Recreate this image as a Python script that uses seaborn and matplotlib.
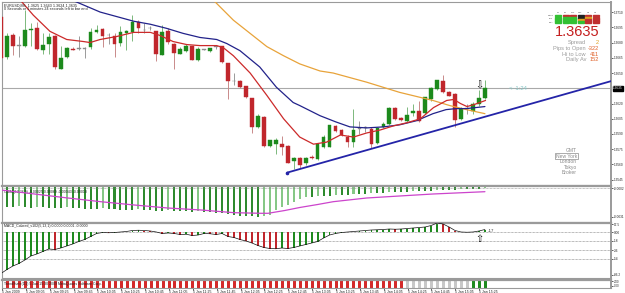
import matplotlib
matplotlib.use("Agg")
import matplotlib.pyplot as plt
import matplotlib.transforms as mtransforms
import numpy as np
import seaborn as sns

# ---------------- data ----------------
time_labels = ["5 Jan 2009", "5 Jan 09:05", "5 Jan 09:25", "5 Jan 09:45", "5 Jan 10:05",
               "5 Jan 10:25", "5 Jan 10:45", "5 Jan 11:05", "5 Jan 11:25", "5 Jan 11:45",
               "5 Jan 12:05", "5 Jan 12:25", "5 Jan 12:45", "5 Jan 13:05", "5 Jan 13:25",
               "5 Jan 13:45", "5 Jan 14:05", "5 Jan 14:25", "5 Jan 14:45", "5 Jan 15:05",
               "5 Jan 15:25"]
time_label_bars = list(range(0, 81, 4))

open_ = [1.3705,1.3666,1.3687,1.3677,1.3677,1.3692,1.3694,1.3673,1.3679,1.3686,
         1.3654,1.3666,1.3674,1.3674,1.3674,1.3676,1.3690,1.3693,1.3687,1.3686,
         1.3680,1.3689,1.3690,1.3700,1.3692,1.3694,1.3691,1.3668,1.3691,1.3679,
         1.3669,1.3672,1.3677,1.3663,1.3673,1.3672,1.3676,1.3677,1.3660,1.3642,
         1.3642,1.3637,1.3625,1.3597,1.3607,1.3578,1.3580,1.3580,1.3578,1.3563,
         1.3566,1.3561,1.3567,1.3565,1.3577,1.3577,1.3598,1.3594,1.3587,1.3582,
         1.3595,1.3596,1.3595,1.3581,1.3597,1.3600,1.3616,1.3606,1.3603,1.3611,
         1.3613,1.3611,1.3624,1.3634,1.3642,1.3631,1.3629,1.3605,1.3615,1.3613,
         1.3620,1.3625]
high = [1.3707,1.3689,1.3689,1.3686,1.3712,1.3699,1.3700,1.3689,1.3689,1.3687,
        1.3677,1.3676,1.3676,1.3686,1.3676,1.3694,1.3697,1.3694,1.3689,1.3689,
        1.3696,1.3692,1.3707,1.3702,1.3699,1.3696,1.3691,1.3697,1.3694,1.3680,
        1.3676,1.3679,1.3677,1.3676,1.3674,1.3675,1.3677,1.3677,1.3660,1.3650,
        1.3643,1.3637,1.3625,1.3610,1.3608,1.3584,1.3586,1.3588,1.3579,1.3567,
        1.3567,1.3567,1.3569,1.3581,1.3589,1.3599,1.3599,1.3595,1.3589,1.3615,
        1.3603,1.3598,1.3597,1.3597,1.3602,1.3617,1.3617,1.3607,1.3617,1.3620,
        1.3622,1.3626,1.3636,1.3643,1.3648,1.3632,1.3630,1.3617,1.3620,1.3621,
        1.3633,1.3643]
low = [1.3664,1.3664,1.3668,1.3666,1.3676,1.3677,1.3673,1.3669,1.3669,1.3654,
       1.3654,1.3665,1.3673,1.3673,1.3665,1.3674,1.3689,1.3676,1.3679,1.3666,
       1.3677,1.3673,1.3682,1.3689,1.3689,1.3692,1.3662,1.3668,1.3679,1.3654,
       1.3669,1.3671,1.3663,1.3662,1.3673,1.3671,1.3674,1.3660,1.3624,1.3638,
       1.3635,1.3625,1.3591,1.3596,1.3577,1.3577,1.3570,1.3569,1.3561,1.3556,
       1.3557,1.3559,1.3565,1.3564,1.3576,1.3577,1.3592,1.3588,1.3577,1.3577,
       1.3590,1.3592,1.3576,1.3580,1.3596,1.3599,1.3604,1.3603,1.3602,1.3608,
       1.3602,1.3610,1.3622,1.3633,1.3630,1.3627,1.3597,1.3604,1.3610,1.3610,
       1.3618,1.3624]
close = [1.3665,1.3686,1.3677,1.3677,1.3692,1.3693,1.3674,1.3678,1.3685,1.3656,
         1.3665,1.3675,1.3673,1.3674,1.3674,1.3690,1.3692,1.3686,1.3687,1.3679,
         1.3690,1.3691,1.3700,1.3694,1.3692,1.3694,1.3669,1.3690,1.3681,1.3670,
         1.3674,1.3677,1.3663,1.3674,1.3673,1.3675,1.3676,1.3661,1.3642,1.3642,
         1.3636,1.3626,1.3597,1.3608,1.3578,1.3584,1.3584,1.3577,1.3561,1.3566,
         1.3559,1.3566,1.3566,1.3580,1.3587,1.3599,1.3593,1.3589,1.3582,1.3594,
         1.3595,1.3596,1.3580,1.3596,1.3600,1.3616,1.3605,1.3604,1.3609,1.3613,
         1.3603,1.3626,1.3635,1.3643,1.3631,1.3627,1.3604,1.3615,1.3615,1.3620,
         1.3625,1.3635]

# moving averages, sampled along the drawn lines (bar position, price)
ma_fast_x = [3.2,5.4,8.2,11.0,13.8,14.9,16.6,19.4,22.2,25.0,26.6,28.8,31.1,33.3,36.1,37.2,
             38.9,41.7,44.5,47.3,50.0,52.3,54.5,56.8,59.0,61.2,63.5,65.7,67.9,70.2,72.4,
             74.6,75.8,76.9,78.0,79.2,81.1]
ma_fast_y = [1.3722,1.3707,1.3691,1.3683,1.3681,1.3680,1.3683,1.3686,1.3690,1.3690,1.3687,
             1.3681,1.3678,1.3677,1.3677,1.3675,1.3667,1.3650,1.3628,1.3605,1.3587,1.3580,
             1.3582,1.3589,1.3587,1.3591,1.3594,1.3598,1.3601,1.3605,1.3616,1.3623,1.3624,
             1.3620,1.3617,1.3619,1.3623]
ma_mid_x = [11.8,16.6,22.2,25.0,27.7,30.5,33.3,36.1,37.8,40.0,43.3,46.1,48.9,50.0,53.4,56.0,
            58.4,61.2,64.0,66.7,69.5,72.3,74.5,76.2,77.9,81.0]
ma_mid_y = [1.3722,1.3710,1.3701,1.3698,1.3694,1.3689,1.3685,1.3683,1.3679,1.3672,1.3656,
            1.3636,1.3621,1.3618,1.3608,1.3602,1.3597,1.3596,1.3597,1.3599,1.3603,1.3610,
            1.3614,1.3615,1.3615,1.3617]
ma_slow_x = [35.5,38.9,41.7,44.5,47.3,50.0,53.4,55.6,61.2,66.7,72.3,75.1,77.9,81.0]
ma_slow_y = [1.3722,1.3702,1.3689,1.3676,1.3667,1.3659,1.3652,1.3650,1.3641,1.3631,1.3623,
             1.3618,1.3614,1.3610]

trend_x = [47.9, 102.1]
trend_y = [1.3552, 1.3642]

price_ticks = [1.3710,1.3695,1.3680,1.3665,1.3650,1.3620,1.3605,1.3590,1.3575,1.3560,1.3545]
bid_price = 1.3635

# oscillator panel (histogram + signal)
osma_hist = [-0.0020,-0.0021,-0.0021,-0.0020,-0.0021,-0.0022,-0.0021,-0.0021,-0.0022,-0.0022,
             -0.0022,-0.0021,-0.0022,-0.0022,-0.0023,-0.0023,-0.0023,-0.0022,-0.0023,-0.0023,
             -0.0024,-0.0024,-0.0024,-0.0023,-0.0024,-0.0024,-0.0025,-0.0025,-0.0024,-0.0025,
             -0.0025,-0.0025,-0.0026,-0.0025,-0.0026,-0.0026,-0.0027,-0.0027,-0.0028,-0.0029,
             -0.0030,-0.0030,-0.0030,-0.0031,-0.0030,-0.0029,-0.0024,-0.0021,-0.0019,-0.0016,
             -0.0013,-0.0011,-0.0011,-0.0010,-0.0010,-0.0010,-0.0009,-0.0009,-0.0009,-0.0008,
             -0.0008,-0.0008,-0.0007,-0.0007,-0.0007,-0.0006,-0.0006,-0.0006,-0.0006,-0.0005,
             -0.0005,-0.0005,-0.0005,-0.0004,-0.0004,-0.0004,-0.0004,-0.0003,-0.0003,-0.0003,
             -0.0003,-0.0002]
osma_sig_x = [0, 5.6, 11.2, 16.7, 22.3, 27.9, 33.5, 39.0, 43.6, 44.7, 47.5, 50.0, 53.0, 55.6,
              61.2, 66.7, 72.3, 81.0]
osma_sig_y = [-0.0004,-0.0008,-0.0012,-0.00157,-0.0019,-0.0022,-0.0024,-0.00267,-0.00273,
              -0.00273,-0.00245,-0.00215,-0.00185,-0.00157,-0.0012,-0.0010,-0.0008,-0.00057]

# MACD colored panel
macd_vals = [-83,-75,-68,-63,-56,-48,-44,-39,-34,-35,-32,-28,-24,-19,-15,-9,-3,-1,-1.5,-1,
             0,1,3,3.5,3,2,0,-3,-2,-3,-5,-4.5,-7,-6,-3,-3.5,-5,-3,-9,-11,
             -15,-18,-22,-27,-31,-33,-33.5,-32,-33,-31,-28,-25,-22,-19,-12,-6,-3,-1,0,1,
             2,3,4,4.5,5,6,5.5,6,7,8,9,10,13,18,16,10,3,0,-0.5,0,
             2,5]
macd_levels = [0, -18, -36, -54]

# trend state stripes: 0 = red, 1 = grey, 2 = green
trend_state = [0]*68 + [1]*11 + [2]*3

# ---------------- style ----------------
sns.set_theme(style="white")
plt.rcParams['font.family'] = ['Liberation Sans', 'DejaVu Sans']

W, H = 625, 293
fig = plt.figure(figsize=(W/100, H/100), dpi=100)
fig.patch.set_facecolor('white')
GRID = '#9a9a9a'

def ax_px(x0, y0, x1, y1):
    a = fig.add_axes([x0/W, 1-y1/H, (x1-x0)/W, (y1-y0)/H])
    a.set_facecolor('white')
    for s in a.spines.values():
        s.set_color(GRID); s.set_linewidth(0.8)
    a.spines['top'].set_linewidth(1.6)
    a.spines['right'].set_linewidth(1.4)
    return a

def ftext(x, y, s, **kw):
    return fig.text(x/W, 1-y/H, s, **kw)

XL = (0.17, 102.1)
n = len(close)
idx = np.arange(n)
o = np.array(open_); c = np.array(close); h = np.array(high); l = np.array(low)
TICK_FS = 2.25

def right_ticks(a, ticks, labels, size=TICK_FS):
    a.yaxis.tick_right()
    a.set_yticks(ticks)
    a.set_yticklabels(labels)
    a.tick_params(axis='y', which='both', length=1.4, width=0.5, pad=0.6,
                  labelsize=size, colors='#222222', right=True, left=False)
    a.tick_params(axis='x', bottom=False, labelbottom=False)

# ---------------- main price panel ----------------
ax = ax_px(2, 2, 611, 184.5)
ax.spines['top'].set_linewidth(0.8)
ax.set_xlim(*XL)
ax.set_ylim(1.35403, 1.37199)
ax.axhline(bid_price, color='#a9a9a9', lw=0.8, zorder=1)

bull = c > o
bear = c < o
body_col = np.where(bull, '#1c8a1c', np.where(bear, '#c0262c', '#8c8c8c'))
wick_col = np.where(bull, '#7cb87c', np.where(bear, '#c98a8a', '#9a9a9a'))
ax.vlines(idx, l, h, colors=wick_col, lw=0.7, zorder=2)
bottoms = np.minimum(o, c)
heights = np.maximum(np.abs(c - o), 0.00005)
ax.bar(idx, heights, bottom=bottoms, width=0.62, color=body_col,
       edgecolor=body_col, linewidth=0.3, zorder=3)

sns.lineplot(x=ma_slow_x, y=ma_slow_y, ax=ax, color='#e8a33a', lw=0.9, zorder=4)
sns.lineplot(x=ma_mid_x, y=ma_mid_y, ax=ax, color='#22228a', lw=0.9, zorder=4)
sns.lineplot(x=ma_fast_x, y=ma_fast_y, ax=ax, color='#cc2a2a', lw=0.9, zorder=5)
sns.lineplot(x=trend_x, y=trend_y, ax=ax, color='#2424a8', lw=1.3, zorder=5)
ax.plot(trend_x[:1], trend_y[:1], 'o', ms=1.6, color='#2424a8', zorder=6)

right_ticks(ax, price_ticks, ["%.4f" % t for t in price_ticks])
ax.set_xlabel(''); ax.set_ylabel('')
trans = mtransforms.blended_transform_factory(ax.transAxes, ax.transData)
ax.text(1.0035, bid_price, "%.4f" % bid_price, transform=trans, fontsize=TICK_FS,
        color='white', va='center', ha='left',
        bbox=dict(boxstyle='square,pad=0.2', fc='black', ec='black'))

ax.text(80, 1.36375, '\u21e9', fontsize=7, ha='center', va='center',
        color='#111111', family=['DejaVu Sans'], zorder=7)
ax.text(85.0, bid_price, '<--1:24', fontsize=4.2, ha='left', va='center',
        color='#86c6c6', zorder=7)

ftext(4, 5.5, "EURUSD,M5  1.3625 1.3643 1.3624 1.3635", fontsize=2.7, color='#222222', va='center')
ftext(4, 9.0, "0 Seconds or 1 minutes 24 seconds left to bar end", fontsize=2.7, color='#222222', va='center')

# info block (top right)
tf = ["M1", "M5", "M15", "M30", "H1", "H4"]
row_names = ["MACD", "STR", "EMA"]
row_name_y = [15.6, 18.9, 22.2]
cell_colors = [['#33c033', '#c03030', '#c03030', '#202020', '#c03030', '#c03030'],
               ['#33c033', '#33c033', '#33c033', '#202020', '#e0a020', '#c03030'],
               ['#33c033', '#33c033', '#33c033', '#e0a020', '#c03030', '#c03030'],
               ['#33c033', '#33c033', '#33c033', '#33c033', '#c03030', '#c03030']]
col_x0 = [555, 562.5, 570, 577.5, 585, 592.5]
for j, name in enumerate(tf):
    ftext(col_x0[j] + 3, 12.3, name, fontsize=1.6, color='#555555', ha='center', va='center')
for rn, yy in zip(row_names, row_name_y):
    ftext(553.5, yy, rn, fontsize=1.5, color='#555555', ha='right', va='center')
for r in range(4):
    y0 = 14.6 + r * 2.3
    for j in range(6):
        fig.patches.append(plt.Rectangle((col_x0[j]/W, 1-(y0+1.7)/H), 6/W, 1.7/H,
                                         transform=fig.transFigure, color=cell_colors[r][j]))

ftext(599, 36.2, "1.3635", fontsize=10.5, color='#c41e1e', ha='right', va='baseline')
info_lab = ["Spread", "Pips to Open", "Hi to Low", "Daily Av"]
info_val = ["2", "-322", "411", "152"]
info_vcol = ['#e0a020', '#e0622a', '#e0622a', '#e0622a']
info_base = [44.0, 49.8, 55.5, 61.0]
for lab, val, vc, yb in zip(info_lab, info_val, info_vcol, info_base):
    ftext(586, yb, lab, fontsize=4.1, color='#9a9a9a', ha='right', va='baseline')
    ftext(599, yb, val, fontsize=4.1, color=vc, ha='right', va='baseline')

sessions = ["GMT", "New York", "London", "Tokyo", "Broker"]
for i, s in enumerate(sessions):
    kw = dict(fontsize=3.6, color='#8a8a8a', ha='right', va='center')
    if s == "New York":
        kw['bbox'] = dict(boxstyle='square,pad=0.15', fc='none', ec='#8a8a8a', lw=0.5)
    ftext(577, 150.5 + i * 5.6, s, **kw)

# ---------------- oscillator panel ----------------
ax2 = ax_px(2, 186, 611, 221.5)
ax2.set_xlim(*XL)
ax2.set_ylim(-0.00355, 0.0)
hist = np.array(osma_hist)
prev = np.concatenate([[hist[0]], hist[:-1]])
hcol = np.where(hist <= prev, '#2e8b2e', '#86c886')
ax2.bar(idx, hist, width=0.34, color=hcol, linewidth=0, zorder=2)
ax2.axhline(-0.0002, color='#888888', lw=0.5, ls=(0, (1, 1)), zorder=3)
sns.lineplot(x=osma_sig_x, y=osma_sig_y, ax=ax2, color='#cc44cc', lw=0.9, zorder=4)
right_ticks(ax2, [-0.0002, -0.0031], ["-0.0002", "-0.0031"])
ax2.set_xlabel(''); ax2.set_ylabel('')
ax2.text(0.004, 0.9, "OsMA(12,26,9) -0.00025 0.00069 -0.00043 -0.00018",
         transform=ax2.transAxes, fontsize=2.5, color='#222222', va='top')

# ---------------- MACD colored panel ----------------
ax3 = ax_px(2, 223, 611, 278)
ax3.set_xlim(*XL)
ax3.set_ylim(-92, 18)
mv = np.array(macd_vals, dtype=float)
mprev = np.concatenate([[mv[0] + 1], mv[:-1]])
mcol = np.where(mv >= mprev, '#1f8a1f', '#c0262c')
for lv in macd_levels:
    ax3.axhline(lv, color='#777777', lw=0.5, ls=(0, (1, 1)), zorder=1)
ax3.bar(idx, mv, width=0.3, color=mcol, linewidth=0, zorder=2)
sns.lineplot(x=idx, y=mv, ax=ax3, color='#111111', lw=0.5, zorder=3)
right_ticks(ax3, [16, 0, -18, -36, -54, -86], ["17.5", "0.00", "-18", "-36", "-54", "-86.2"])
ax3.set_xlabel(''); ax3.set_ylabel('')
ax3.text(0.004, 0.985, "MACD_Colored_v102(5,13,1) 0.0000 0.0001 -0.0000",
         transform=ax3.transAxes, fontsize=2.5, color='#222222', va='top')
ax3.text(81.5, 1, "-17", fontsize=3.2, color='#333333', ha='left', va='center')
ax3.text(80, -15, '\u21e7', fontsize=7, ha='center', va='center',
         color='#111111', family=['DejaVu Sans'], zorder=7)

# ---------------- trend stripes panel ----------------
ax4 = ax_px(2, 279.5, 611, 288)
ax4.set_xlim(*XL)
ax4.set_ylim(0, 1)
scol = np.array(['#d42a2a', '#c8c8c8', '#1f8a1f'])[np.array(trend_state)]
ax4.bar(idx, np.ones(n), width=0.5, color=scol, linewidth=0)
ax4.yaxis.tick_right()
ax4.set_yticks([0.8, 0.25])
ax4.set_yticklabels(["2.00", "0.00"])
ax4.tick_params(axis='y', length=1.4, width=0.5, pad=0.6, labelsize=2.0, colors='#222222')
ax4.set_xticks(time_label_bars)
ax4.set_xticklabels(time_labels)
ax4.tick_params(axis='x', length=1.2, width=0.5, pad=0.4, labelsize=2.5, colors='#222222',
                bottom=True)
for t in ax4.get_xticklabels():
    t.set_ha('left')
ax4.text(0.004, 0.5, "TrendState(D1) 5 Jan 15:30 2009 MetaQuotes Software Corp.",
         transform=ax4.transAxes, fontsize=2.5, color='#222222', va='center')

fig.savefig("out.png", dpi=100, facecolor='white')
